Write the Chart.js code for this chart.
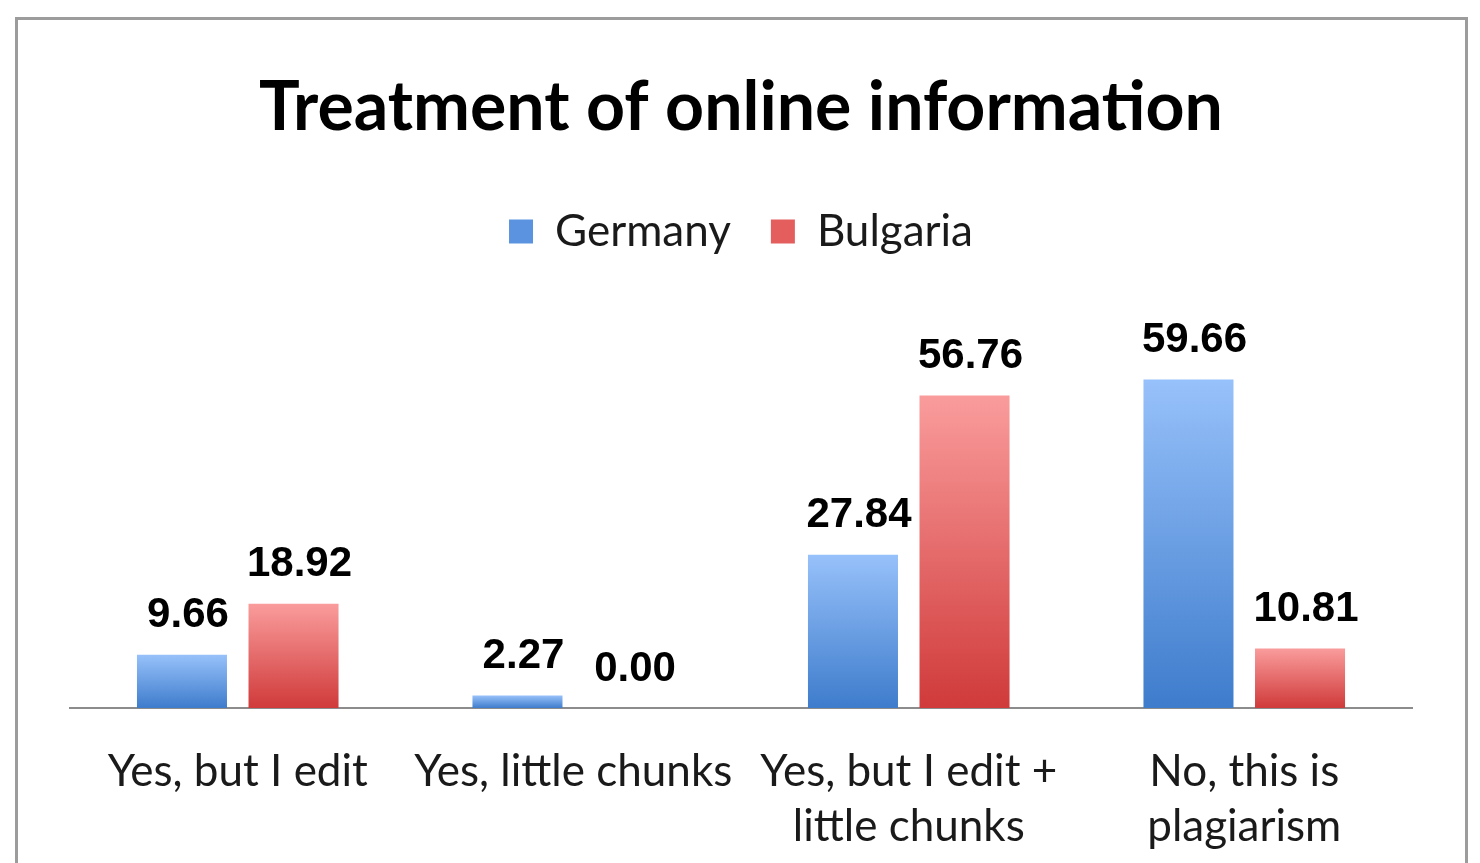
<!DOCTYPE html>
<html>
<head>
<meta charset="utf-8">
<script src="https://cdn.jsdelivr.net/npm/chart.js@4"></script>
<style>
  html, body { margin: 0; padding: 0; background: #fff; overflow: hidden; }
  #wrap { position: relative; width: 1480px; height: 863px; overflow: hidden; }
  #frame { position: absolute; left: 15px; top: 17px; width: 1447px; height: 900px;
           border: 3px solid #9c9c9c; border-bottom: none; }
  canvas { position: absolute; left: 0; top: 0; }
</style>
</head>
<body>
<div id="wrap">
  <div id="frame"></div>
  <canvas id="chart" width="1480" height="892"></canvas>
</div>
<script>
const categories = [
  "Yes, but I edit",
  "Yes, little chunks",
  ["Yes, but I edit +", "little chunks"],
  ["No, this is", "plagiarism"]
];
const germany = [9.66, 2.27, 27.84, 59.66];
const bulgaria = [18.92, 0.00, 56.76, 10.81];

// gradient for each bar, from its top down to the axis
function barGradient(top, bottom, solid) {
  return function (context) {
    const chart = context.chart;
    const y = chart.scales && chart.scales.y;
    if (!chart.chartArea || !y || context.raw === undefined) return solid;
    const y0 = y.getPixelForValue(0);
    const y1 = y.getPixelForValue(context.raw);
    if (Math.abs(y0 - y1) < 1) return solid;
    const g = chart.ctx.createLinearGradient(0, y1, 0, y0);
    g.addColorStop(0, top);
    g.addColorStop(1, bottom);
    return g;
  };
}

const valueLabels = {
  id: "valueLabels",
  afterDatasetsDraw(chart) {
    const ctx = chart.ctx;
    ctx.save();
    ctx.font = "bold 42px 'Liberation Sans', Arial, sans-serif";
    ctx.fillStyle = "#000";
    ctx.textAlign = "center";
    ctx.textBaseline = "bottom";
    chart.data.datasets.forEach((ds, i) => {
      chart.getDatasetMeta(i).data.forEach((bar, j) => {
        ctx.fillText(ds.data[j].toFixed(2), bar.x + 6, bar.y - 18);
      });
    });
    ctx.restore();
  }
};

const ctx = document.getElementById("chart").getContext("2d");
new Chart(ctx, {
  type: "bar",
  data: {
    labels: categories,
    datasets: [
      {
        label: "Germany",
        data: germany,
        backgroundColor: barGradient("#97c1fa", "#3e7ccc", "#5b93e0"),
        categoryPercentage: 0.665,
        barPercentage: 0.807
      },
      {
        label: "Bulgaria",
        data: bulgaria,
        backgroundColor: barGradient("#fa9c9c", "#d03a3a", "#e45e5e"),
        categoryPercentage: 0.665,
        barPercentage: 0.807
      }
    ]
  },
  options: {
    responsive: false,
    animation: false,
    layout: { padding: { left: 70, right: 68, top: 0, bottom: 10 } },
    plugins: {
      title: {
        display: true,
        text: "Treatment of online information",
        color: "#000",
        font: { family: "Lato", size: 68, weight: "bold" },
        padding: { top: 67, bottom: 21 }
      },
      legend: {
        position: "top",
        labels: {
          color: "#1a1a1a",
          font: { family: "Lato", size: 44 },
          boxWidth: 24,
          boxHeight: 24,
          padding: 40,
          generateLabels(chart) {
            const solid = ["#5b93e0", "#e45e5e"];
            return chart.data.datasets.map((ds, i) => ({
              text: ds.label,
              fillStyle: solid[i],
              strokeStyle: solid[i],
              lineWidth: 0,
              datasetIndex: i,
              fontColor: "#1a1a1a"
            }));
          }
        }
      },
      tooltip: { enabled: false }
    },
    scales: {
      x: {
        grid: { display: false },
        border: { display: true, color: "#8c8c8c", width: 2 },
        ticks: {
          color: "#1a1a1a",
          font: { family: "Lato", size: 44, lineHeight: 1.25 },
          padding: 28,
          maxRotation: 0,
          autoSkip: false
        }
      },
      y: {
        display: false,
        min: 0,
        max: 80.7
      }
    }
  },
  plugins: [valueLabels]
});
</script>
</body>
</html>
